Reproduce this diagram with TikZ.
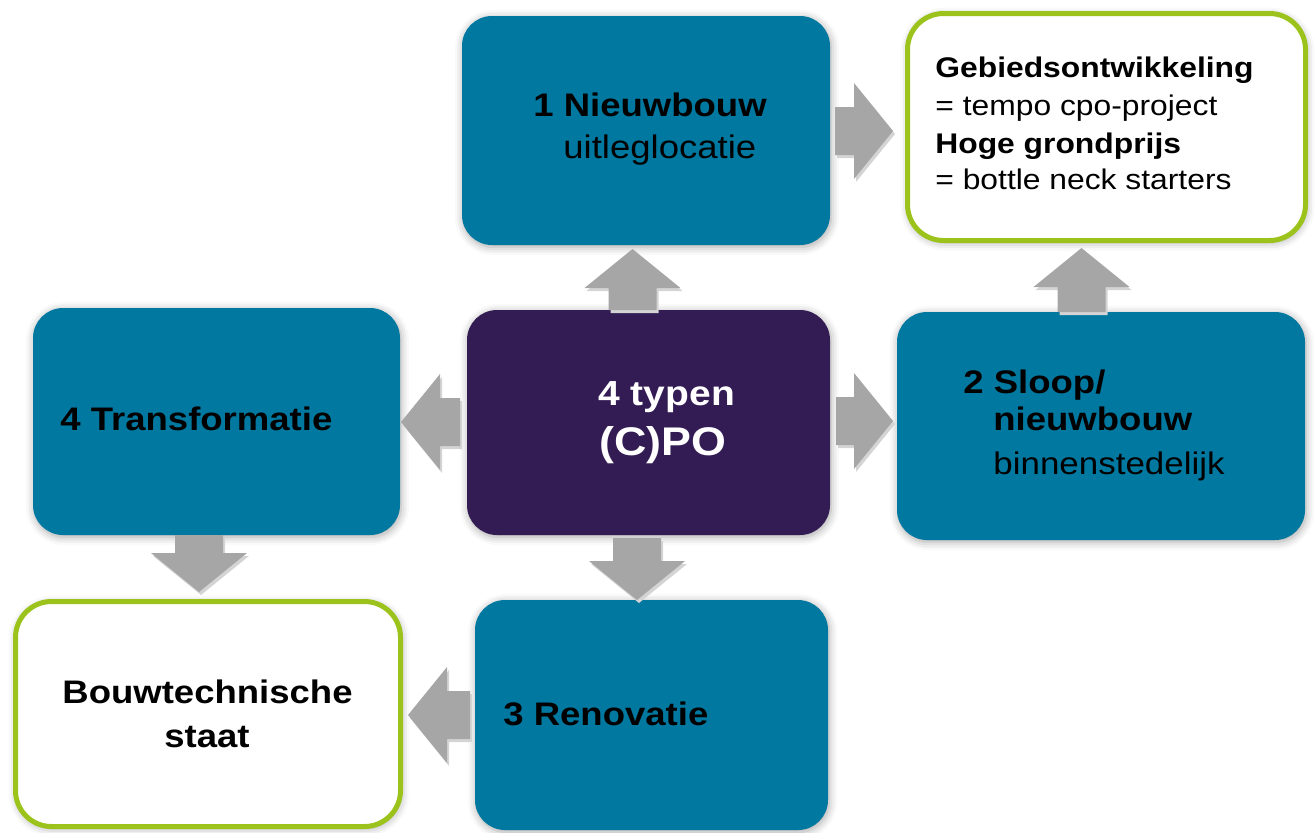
\documentclass[tikz,border=0pt]{standalone}
\usepackage{fontspec}
\setmainfont{Liberation Sans}[FakeStretch=1.12]
\usetikzlibrary{shadows.blur}
\definecolor{tealbox}{RGB}{0,120,160}
\definecolor{purplebox}{RGB}{51,28,84}
\definecolor{greenline}{RGB}{155,195,28}
\definecolor{arrowgray}{RGB}{166,166,166}
\definecolor{arrowshade}{RGB}{212,212,212}
\tikzset{
  halo/.style={blur shadow={shadow xshift=0.5pt, shadow yshift=-1pt, shadow blur radius=4pt, shadow opacity=35}},
  tealnode/.style={rectangle, rounded corners=15pt, fill=tealbox, inner sep=0pt, halo},
  purplenode/.style={rectangle, rounded corners=15pt, fill=purplebox, inner sep=0pt, halo},
  whitenode/.style={rectangle, rounded corners=18pt, fill=white, draw=greenline, line width=2.5pt, inner sep=0pt, halo},
  bigtxt/.style={inner sep=0pt, anchor=base west, font=\fontsize{16.3}{19}\selectfont},
  smalltxt/.style={inner sep=0pt, anchor=base west, font=\fontsize{14.2}{17}\selectfont},
}
\newcommand\blockarr[4]{% x, y, angle, length
  \begin{scope}[shift={(#1+2,#2+3)}, rotate=#3]
    \fill[arrowshade] (0,-24) -- (#4-39,-24) -- (#4-39,-48) -- (#4,0) -- (#4-39,48) -- (#4-39,24) -- (0,24) -- cycle;
  \end{scope}
  \begin{scope}[shift={(#1,#2)}, rotate=#3]
    \fill[arrowgray] (0,-24) -- (#4-39,-24) -- (#4-39,-48) -- (#4,0) -- (#4-39,48) -- (#4-39,24) -- (0,24) -- cycle;
  \end{scope}}
\begin{document}
\begin{tikzpicture}[x=0.5pt,y=-0.5pt]
\useasboundingbox (0,0) rectangle (1316,832);
% boxes
\node[tealnode, minimum width=184pt, minimum height=114.5pt] (n1) at (646,130.5) {};
\node[whitenode, minimum width=199pt, minimum height=113.5pt] (gb) at (1106.5,127) {};
\node[tealnode, minimum width=183.5pt, minimum height=113.5pt] (n4) at (216.5,421.5) {};
\node[purplenode, minimum width=181.5pt, minimum height=112.5pt] (c) at (648.5,422.5) {};
\node[tealnode, minimum width=204pt, minimum height=114pt] (n2) at (1101,426) {};
\node[whitenode, minimum width=192.5pt, minimum height=112.5pt] (bt) at (208,714) {};
\node[tealnode, minimum width=176.5pt, minimum height=115pt] (n3) at (651.5,715) {};
% block arrows
\blockarr{835}{131}{0}{58}
\blockarr{632.5}{310}{90}{61}
\blockarr{1081.5}{312}{90}{64}
\blockarr{460}{422}{180}{59}
\blockarr{836}{421}{0}{57}
\blockarr{199}{535}{270}{57}
\blockarr{637}{538}{270}{62}
\blockarr{470}{715}{180}{62}
% texts
\node[bigtxt] (n1a) at (533,116) {\bfseries 1 Nieuwbouw};
\node[bigtxt] (n1b) at (563,158) {uitleglocatie};
\node[smalltxt] (gb1) at (935,77) {\bfseries Gebiedsontwikkeling};
\node[smalltxt] (gb2) at (935,115) {= tempo cpo-project};
\node[smalltxt] (gb3) at (935,153) {\bfseries Hoge grondprijs};
\node[smalltxt] (gb4) at (935,189) {= bottle neck starters};
\node[bigtxt] (n4a) at (60,430) {\bfseries 4 Transformatie};
\node[inner sep=0pt, anchor=base west, text=white, font=\fontsize{17.4}{20}\selectfont\bfseries] (ca) at (598,405) {4 typen};
\node[inner sep=0pt, anchor=base west, text=white, font=\fontsize{20}{24}\selectfont\bfseries] (cb) at (599,455) {(C)PO};
\node[bigtxt] (n2a) at (963,393) {\bfseries 2 Sloop/};
\node[bigtxt] (n2b) at (993,430) {\bfseries nieuwbouw};
\node[bigtxt, font=\fontsize{15.6}{19}\selectfont] (n2c) at (993,474) {binnenstedelijk};
\node[bigtxt] (n3a) at (503,725) {\bfseries 3 Renovatie};
\node[inner sep=0pt, anchor=base, font=\fontsize{16.3}{19}\selectfont\bfseries] (bt1) at (207.5,703) {Bouwtechnische};
\node[inner sep=0pt, anchor=base, font=\fontsize{16.3}{19}\selectfont\bfseries] (bt2) at (207,747) {staat};
\end{tikzpicture}
\end{document}
